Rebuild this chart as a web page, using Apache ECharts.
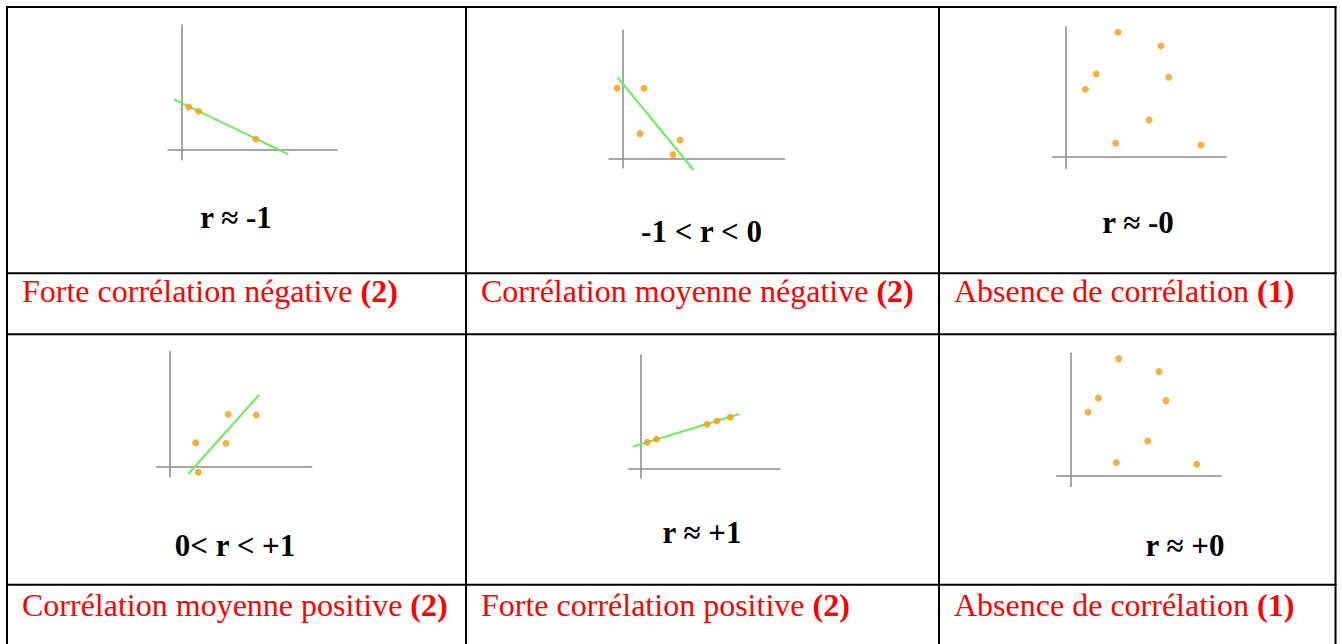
<!DOCTYPE html>
<html><head><meta charset="utf-8">
<script src="https://cdn.jsdelivr.net/npm/echarts@6/dist/echarts.min.js"></script>
<style>html,body{margin:0;padding:0;background:#fff}#c{width:1342px;height:644px}</style>
</head><body><div id="c"></div>
<script>
// ---- data (arbitrary units, origin = axis crossing) ----
const strongNegPoints = [[0.67,4.3],[1.67,3.87],[7.37,1.1]];
const strongNegFit    = [[-0.8,5.07],[10.63,-0.43]];
const medNegPoints    = [[-0.53,7.0],[2.17,7.0],[1.77,2.47],[5.77,1.83],[5.07,0.37]];
const medNegFit       = [[-0.47,8.1],[7.13,-1.17]];
const noCorrPointsA   = [[5.2,12.44],[9.5,11.1],[3.03,8.27],[10.27,7.94],[1.93,6.74],[8.3,3.67],[4.97,1.34],[13.5,1.17]];
const medPosPoints    = [[5.83,5.24],[8.63,5.17],[2.57,2.4],[5.6,2.34],[2.83,-0.56]];
const medPosFit       = [[1.83,-0.73],[8.9,7.17]];
const strongPosPoints = [[0.67,2.6],[1.57,2.9],[6.63,4.4],[7.63,4.73],[8.97,5.1]];
const strongPosFit    = [[-0.8,2.17],[9.87,5.43]];
const noCorrPointsB   = [[4.8,11.67],[8.83,10.37],[2.77,7.73],[9.53,7.47],[1.73,6.3],[7.7,3.43],[4.57,1.27],[12.6,1.1]];

const rLabels = ['r ≈ -1', '-1 < r < 0', 'r ≈ -0', '0< r < +1', 'r ≈ +1', 'r ≈ +0'];
const descriptions = ['Forte corrélation négative', 'Corrélation moyenne négative', 'Absence de corrélation',
                      'Corrélation moyenne positive', 'Forte corrélation positive', 'Absence de corrélation'];
const scores = ['(2)', '(2)', '(1)', '(2)', '(2)', '(1)'];

// ---- layout ----
const panels = [
  {pts: strongNegPoints, fit: strongNegFit, o: [182, 150],   xr: [-1.4, 15.5],  yr: [-1.0, 12.5]},
  {pts: medNegPoints,    fit: medNegFit,    o: [622.3, 158.3], xr: [-1.33, 16.2], yr: [-0.97, 12.8]},
  {pts: noCorrPointsA,   fit: null,         o: [1066, 156.7],  xr: [-1.33, 16.0], yr: [-1.16, 13.0]},
  {pts: medPosPoints,    fit: medPosFit,    o: [170, 466.7],   xr: [-1.33, 14.17], yr: [-1.0, 11.5]},
  {pts: strongPosPoints, fit: strongPosFit, o: [640.7, 468.3], xr: [-1.17, 13.93], yr: [-1.0, 11.33]},
  {pts: noCorrPointsB,   fit: null,         o: [1070.7, 475.3], xr: [-1.4, 15.03], yr: [-1.13, 12.2]}
];
const PX = 10;
const axisStyle = {color: '#8a8a8a', width: 1.5};
const grid = [], xAxis = [], yAxis = [], series = [];
panels.forEach((p, i) => {
  grid.push({
    left: p.o[0] + p.xr[0] * PX,
    top: p.o[1] - p.yr[1] * PX,
    width: (p.xr[1] - p.xr[0]) * PX,
    height: (p.yr[1] - p.yr[0]) * PX,
    containLabel: false
  });
  const ax = {gridIndex: i, type: 'value', axisLine: {show: true, onZero: true, lineStyle: axisStyle},
    axisTick: {show: false}, axisLabel: {show: false}, splitLine: {show: false}};
  xAxis.push(Object.assign({}, ax, {min: p.xr[0], max: p.xr[1]}));
  yAxis.push(Object.assign({}, ax, {min: p.yr[0], max: p.yr[1]}));
  if (p.fit) series.push({type: 'line', xAxisIndex: i, yAxisIndex: i, data: p.fit, showSymbol: false,
    clip: false, silent: true, lineStyle: {color: '#66ee55', width: 2}, z: 2});
  series.push({type: 'scatter', xAxisIndex: i, yAxisIndex: i, data: p.pts, symbolSize: 7, clip: false,
    itemStyle: {color: '#f39c12'}, z: 3});
});

const font = "'Liberation Serif', 'Times New Roman', serif";
const graphic = [];
// table lines
const vx = [7, 466, 939, 1335.5];
const hy = [7, 273.3, 334.3, 584.7];
vx.forEach(x => graphic.push({type: 'line', shape: {x1: x, y1: 6, x2: x, y2: 644}, style: {stroke: '#000', lineWidth: 2}}));
hy.forEach(y => graphic.push({type: 'line', shape: {x1: 6, y1: y, x2: 1336.5, y2: y}, style: {stroke: '#000', lineWidth: 2}}));
// r labels
const rPos = [[236, 217], [701.5, 231], [1138, 222], [235, 545], [702, 532], [1185, 545]];
rLabels.forEach((t, i) => graphic.push({type: 'text', x: rPos[i][0], y: rPos[i][1],
  style: {text: t, fill: '#000', font: 'bold 31px ' + font, textAlign: 'center', textVerticalAlign: 'middle'}}));
// descriptions
const dPos = [[22, 291], [481, 291], [954, 291], [22, 605], [481, 605], [954, 605]];
descriptions.forEach((t, i) => graphic.push({type: 'text', x: dPos[i][0], y: dPos[i][1],
  style: {text: t + ' {b|' + scores[i] + '}', fill: '#ff0000', fontFamily: font, fontSize: 32,
    textAlign: 'left', textVerticalAlign: 'middle',
    rich: {b: {fontWeight: 'bold', fontFamily: font, fontSize: 32, fill: '#ff0000'}}}}));

const chart = echarts.init(document.getElementById('c'), null, {renderer: 'svg'});
chart.setOption({animation: false, backgroundColor: '#fff', grid, xAxis, yAxis, series, graphic});
</script>
</body></html>
